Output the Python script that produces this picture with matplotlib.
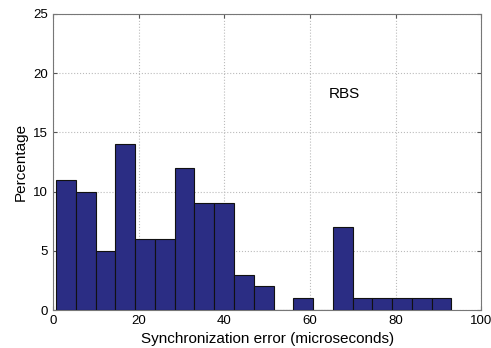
import numpy as np
import matplotlib
matplotlib.use("Agg")
import matplotlib.pyplot as plt

plt.rcParams['font.family'] = ['Liberation Sans', 'DejaVu Sans']

# Histogram data (20 bins, MATLAB hist style)
range_min = 0.7
range_max = 93.06
percentages = [11, 10, 5, 14, 6, 6, 12, 9, 9, 3, 2, 0, 1, 0, 7, 1, 1, 1, 1, 1]
x_ticks = [0, 20, 40, 60, 80, 100]
y_ticks = [0, 5, 10, 15, 20, 25]

edges = np.linspace(range_min, range_max, len(percentages) + 1)
centers = (edges[:-1] + edges[1:]) / 2

fig = plt.figure(figsize=(4.91, 3.48), dpi=100)
ax = fig.add_axes([0.108, 0.109, 0.872, 0.851])

ax.hist(centers, bins=edges, weights=percentages,
        color='#2b2d84', edgecolor='#111111', linewidth=0.8, zorder=3)

ax.set_xlim(0, 100)
ax.set_ylim(0, 25)
ax.set_xticks(x_ticks)
ax.set_yticks(y_ticks)
ax.grid(True, linestyle=':', color='#bbbbbb', linewidth=0.8, zorder=0)
ax.tick_params(direction='in', top=True, right=True, labelsize=9.5, length=3,
               color='#555555')
for s in ax.spines.values():
    s.set_color('#777777')

ax.set_xlabel('Synchronization error (microseconds)', fontsize=11)
ax.set_ylabel('Percentage', fontsize=11)
ax.text(68, 18.2, 'RBS', fontsize=11, ha='center', va='center')

fig.savefig('out.png', dpi=100)
